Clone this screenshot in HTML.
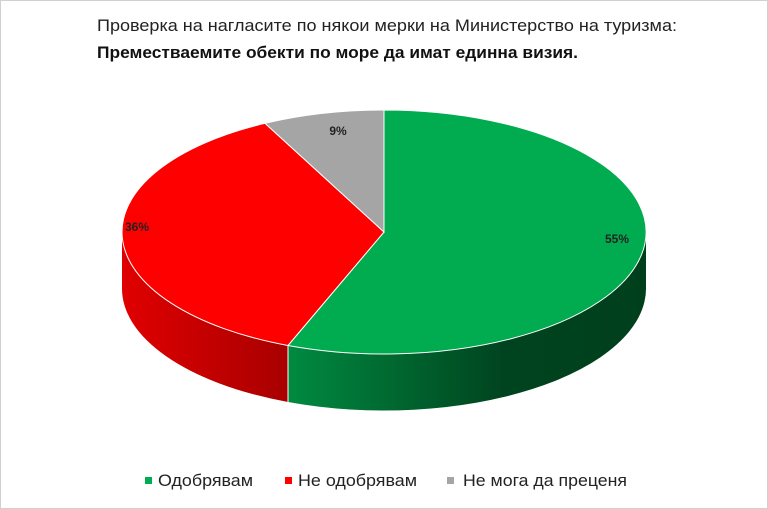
<!DOCTYPE html>
<html><head><meta charset="utf-8"><style>
html,body{margin:0;padding:0;background:#fff}
svg{display:block}
text{font-family:"Liberation Sans",sans-serif}
</style></head><body>
<svg width="768" height="509" viewBox="0 0 768 509">
<defs>
<linearGradient id="rs" x1="122" x2="288" y1="0" y2="0" gradientUnits="userSpaceOnUse">
<stop offset="0" stop-color="#e00000"/><stop offset="1" stop-color="#a80000"/></linearGradient>
<linearGradient id="gs" x1="288" x2="646" y1="0" y2="0" gradientUnits="userSpaceOnUse">
<stop offset="0" stop-color="#008a40"/><stop offset="0.6" stop-color="#00441f"/><stop offset="1" stop-color="#003f1c"/></linearGradient>
</defs>
<rect x="0.5" y="0.5" width="767" height="508" fill="#fff" stroke="#d0d0d0"/>
<text x="97" y="31" font-size="17" fill="#222" textLength="580" lengthAdjust="spacingAndGlyphs">Проверка на нагласите по някои мерки на Министерство на туризма:</text>
<text x="97" y="58" font-size="17" font-weight="bold" fill="#111" textLength="481" lengthAdjust="spacingAndGlyphs">Преместваемите обекти по море да имат единна визия.</text>
<path d="M122,232 A262,122 0 0 0 288,345.5 L288,402 A262,122 0 0 1 122,287 Z" fill="url(#rs)"/>
<path d="M288,345.5 A262,122 0 0 0 646,232 L646,287 A262,122 0 0 1 288,402 Z" fill="url(#gs)"/>
<line x1="288" y1="345.5" x2="288" y2="402" stroke="#fff" stroke-width="1"/>
<path d="M384,232 L384,110 A262,122 0 1 1 288,345.5 Z" fill="#00ac4f" stroke="#fff" stroke-width="1"/>
<path d="M384,232 L288,345.5 A262,122 0 0 1 265,123.3 Z" fill="#ff0000" stroke="#fff" stroke-width="1"/>
<path d="M384,232 L265,123.3 A262,122 0 0 1 384,110 Z" fill="#a5a5a5" stroke="#fff" stroke-width="1"/>
<text x="338" y="135" font-size="12" font-weight="bold" fill="#222" text-anchor="middle">9%</text>
<text x="137" y="231" font-size="12" font-weight="bold" fill="#222" text-anchor="middle">36%</text>
<text x="617" y="243" font-size="12" font-weight="bold" fill="#222" text-anchor="middle">55%</text>
<rect x="145" y="477" width="7" height="7" fill="#00ac4f"/>
<text x="158" y="486" font-size="17" fill="#222" textLength="95" lengthAdjust="spacingAndGlyphs">Одобрявам</text>
<rect x="285" y="477" width="7" height="7" fill="#ff0000"/>
<text x="298" y="486" font-size="17" fill="#222" textLength="119" lengthAdjust="spacingAndGlyphs">Не одобрявам</text>
<rect x="447" y="477" width="7" height="7" fill="#a5a5a5"/>
<text x="463" y="486" font-size="17" fill="#222" textLength="164" lengthAdjust="spacingAndGlyphs">Не мога да преценя</text>
</svg>
</body></html>
